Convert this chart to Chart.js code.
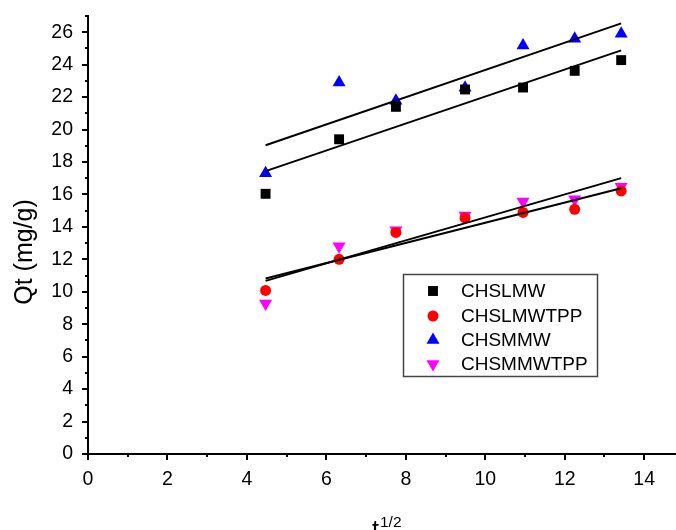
<!DOCTYPE html>
<html>
<head>
<meta charset="utf-8">
<script src="https://cdn.jsdelivr.net/npm/chart.js@4.4.0/dist/chart.umd.min.js"></script>
<style>
    html, body { margin: 0; padding: 0; background: #fff; overflow: hidden; }
</style>
</head>
<body>
<canvas id="kinetics" width="676" height="530"></canvas>
<script>
// square root of contact time
const tHalf = [4.47, 6.32, 7.75, 9.49, 10.95, 12.25, 13.42];

// adsorbed amount Qt (mg/g) per sample
const chslmw = [16.04, 19.4, 21.4, 22.47, 22.59, 23.62, 24.28];
const chslmwtpp = [10.08, 12.0, 13.66, 14.55, 14.89, 15.08, 16.22];
const chsmmw = [17.3, 22.9, 21.77, 22.57, 25.18, 25.6, 25.9];
const chsmmwtpp = [9.28, 12.8, 13.8, 14.7, 15.56, 15.7, 16.47];

const seriesNames = ['CHSLMW', 'CHSLMWTPP', 'CHSMMW', 'CHSMMWTPP'];
const seriesValues = [chslmw, chslmwtpp, chsmmw, chsmmwtpp];
const seriesColors = ['#000000', '#ff0000', '#0000ff', '#ff00ff'];
const seriesShapes = ['rect', 'circle', 'triangle', 'triangle'];
const seriesRotation = [0, 0, 0, 180];
const seriesRadius = [7, 5.5, 7.5, 7.5];

const xTicks = [0, 2, 4, 6, 8, 10, 12, 14];
const yTicks = [0, 2, 4, 6, 8, 10, 12, 14, 16, 18, 20, 22, 24, 26];

// least squares line through each series (intraparticle diffusion fit)
function linearFit(xs, ys) {
    const n = xs.length;
    const mx = xs.reduce((a, b) => a + b, 0) / n;
    const my = ys.reduce((a, b) => a + b, 0) / n;
    let sxy = 0, sxx = 0;
    for (let i = 0; i < n; i++) {
        sxy += (xs[i] - mx) * (ys[i] - my);
        sxx += (xs[i] - mx) * (xs[i] - mx);
    }
    const slope = sxy / sxx;
    return x => my + slope * (x - mx);
}

const datasets = [];
seriesValues.forEach((vals, i) => {
    datasets.push({
        label: seriesNames[i],
        data: tHalf.map((x, j) => ({ x: x, y: vals[j] })),
        pointStyle: seriesShapes[i],
        rotation: seriesRotation[i],
        pointRadius: seriesRadius[i],
        pointHoverRadius: seriesRadius[i],
        backgroundColor: seriesColors[i],
        borderColor: seriesColors[i],
        borderWidth: 0,
        showLine: false,
        order: 2
    });
});
seriesValues.forEach((vals, i) => {
    const f = linearFit(tHalf, vals);
    const x0 = tHalf[0], x1 = tHalf[tHalf.length - 1];
    datasets.push({
        label: 'fit ' + seriesNames[i],
        data: [{ x: x0, y: f(x0) }, { x: x1, y: f(x1) }],
        showLine: true,
        pointRadius: 0,
        borderColor: '#000',
        borderWidth: 2,
        fill: false,
        order: 1
    });
});

function drawMarker(ctx, style, radius, rotation, x, y, color) {
    ctx.save();
    ctx.fillStyle = color;
    ctx.strokeStyle = color;
    ctx.lineWidth = 0;
    if (Chart.helpers && Chart.helpers.drawPoint) {
        Chart.helpers.drawPoint(ctx, { pointStyle: style, radius: radius, rotation: rotation, borderWidth: 0 }, x, y);
    } else {
        ctx.beginPath();
        ctx.arc(x, y, radius, 0, Math.PI * 2);
        ctx.fill();
    }
    ctx.restore();
}

// axis ticks (major outward 6px, minor 3px), axis titles and the boxed legend
const decorations = {
    id: 'decorations',
    afterDraw(chart) {
        const ctx = chart.ctx;
        const xs = chart.scales.x, ys = chart.scales.y;
        const area = chart.chartArea;
        ctx.save();
        ctx.strokeStyle = '#000';
        ctx.lineWidth = 2;
        ctx.beginPath();
        for (let v = 0; v <= xs.max; v++) {
            const px = Math.round(xs.getPixelForValue(v));
            const len = v % 2 === 0 ? 6 : 3;
            ctx.moveTo(px, area.bottom);
            ctx.lineTo(px, area.bottom + len);
        }
        for (let v = 0; v <= ys.max; v++) {
            const py = Math.round(ys.getPixelForValue(v));
            const len = v % 2 === 0 ? 6 : 3;
            ctx.moveTo(area.left, py);
            ctx.lineTo(area.left - len, py);
        }
        ctx.stroke();

        // y axis title
        ctx.fillStyle = '#000';
        ctx.font = '25px "Liberation Sans", Arial, sans-serif';
        ctx.textAlign = 'center';
        ctx.textBaseline = 'middle';
        ctx.save();
        ctx.translate(25, 252);
        ctx.rotate(-Math.PI / 2);
        ctx.fillText('Qt (mg/g)', 0, 0);
        ctx.restore();

        // x axis title t^(1/2)
        ctx.textAlign = 'left';
        ctx.textBaseline = 'alphabetic';
        ctx.font = '25px "Liberation Sans", Arial, sans-serif';
        ctx.fillText('t', 372, 538);
        ctx.font = '15.5px "Liberation Sans", Arial, sans-serif';
        ctx.fillText('1/2', 380, 527);

        // legend
        ctx.lineWidth = 1.5;
        ctx.strokeStyle = '#444';
        ctx.strokeRect(403.5, 274.5, 194, 102);
        const rows = [291, 316, 340, 364];
        ctx.font = '19px "Liberation Sans", Arial, sans-serif';
        ctx.textBaseline = 'middle';
        seriesNames.forEach((name, i) => {
            drawMarker(ctx, seriesShapes[i], seriesRadius[i], seriesRotation[i], 433, rows[i], seriesColors[i]);
            ctx.fillStyle = '#000';
            ctx.fillText(name, 461, rows[i] + 1);
        });
        ctx.restore();
    }
};

const tickFont = { family: '"Liberation Sans", Arial, sans-serif', size: 19.5 };

new Chart(document.getElementById('kinetics'), {
    type: 'scatter',
    data: { datasets: datasets },
    options: {
        responsive: false,
        animation: false,
        layout: { autoPadding: false, padding: { top: 16, right: 0, left: 0, bottom: 0 } },
        plugins: {
            legend: { display: false },
            tooltip: { enabled: false }
        },
        scales: {
            x: {
                type: 'linear',
                min: 0,
                max: 14.8,
                grid: { display: false, drawTicks: false },
                border: { display: true, color: '#000', width: 2 },
                afterBuildTicks: s => { s.ticks = xTicks.map(v => ({ value: v })); },
                ticks: {
                    font: tickFont,
                    color: '#000',
                    padding: 14,
                    maxRotation: 0,
                    includeBounds: false,
                    callback: v => String(v)
                },
                afterFit: s => { s.height = 76; s.paddingLeft = 0; s.paddingRight = 0; }
            },
            y: {
                type: 'linear',
                min: 0,
                max: 27,
                grid: { display: false, drawTicks: false },
                border: { display: true, color: '#000', width: 2 },
                afterBuildTicks: s => { s.ticks = yTicks.map(v => ({ value: v })); },
                ticks: {
                    font: tickFont,
                    color: '#000',
                    padding: 15,
                    includeBounds: false,
                    callback: v => String(v)
                },
                afterFit: s => { s.width = 88; s.paddingTop = 0; s.paddingBottom = 0; }
            }
        }
    },
    plugins: [decorations]
});
</script>
</body>
</html>
